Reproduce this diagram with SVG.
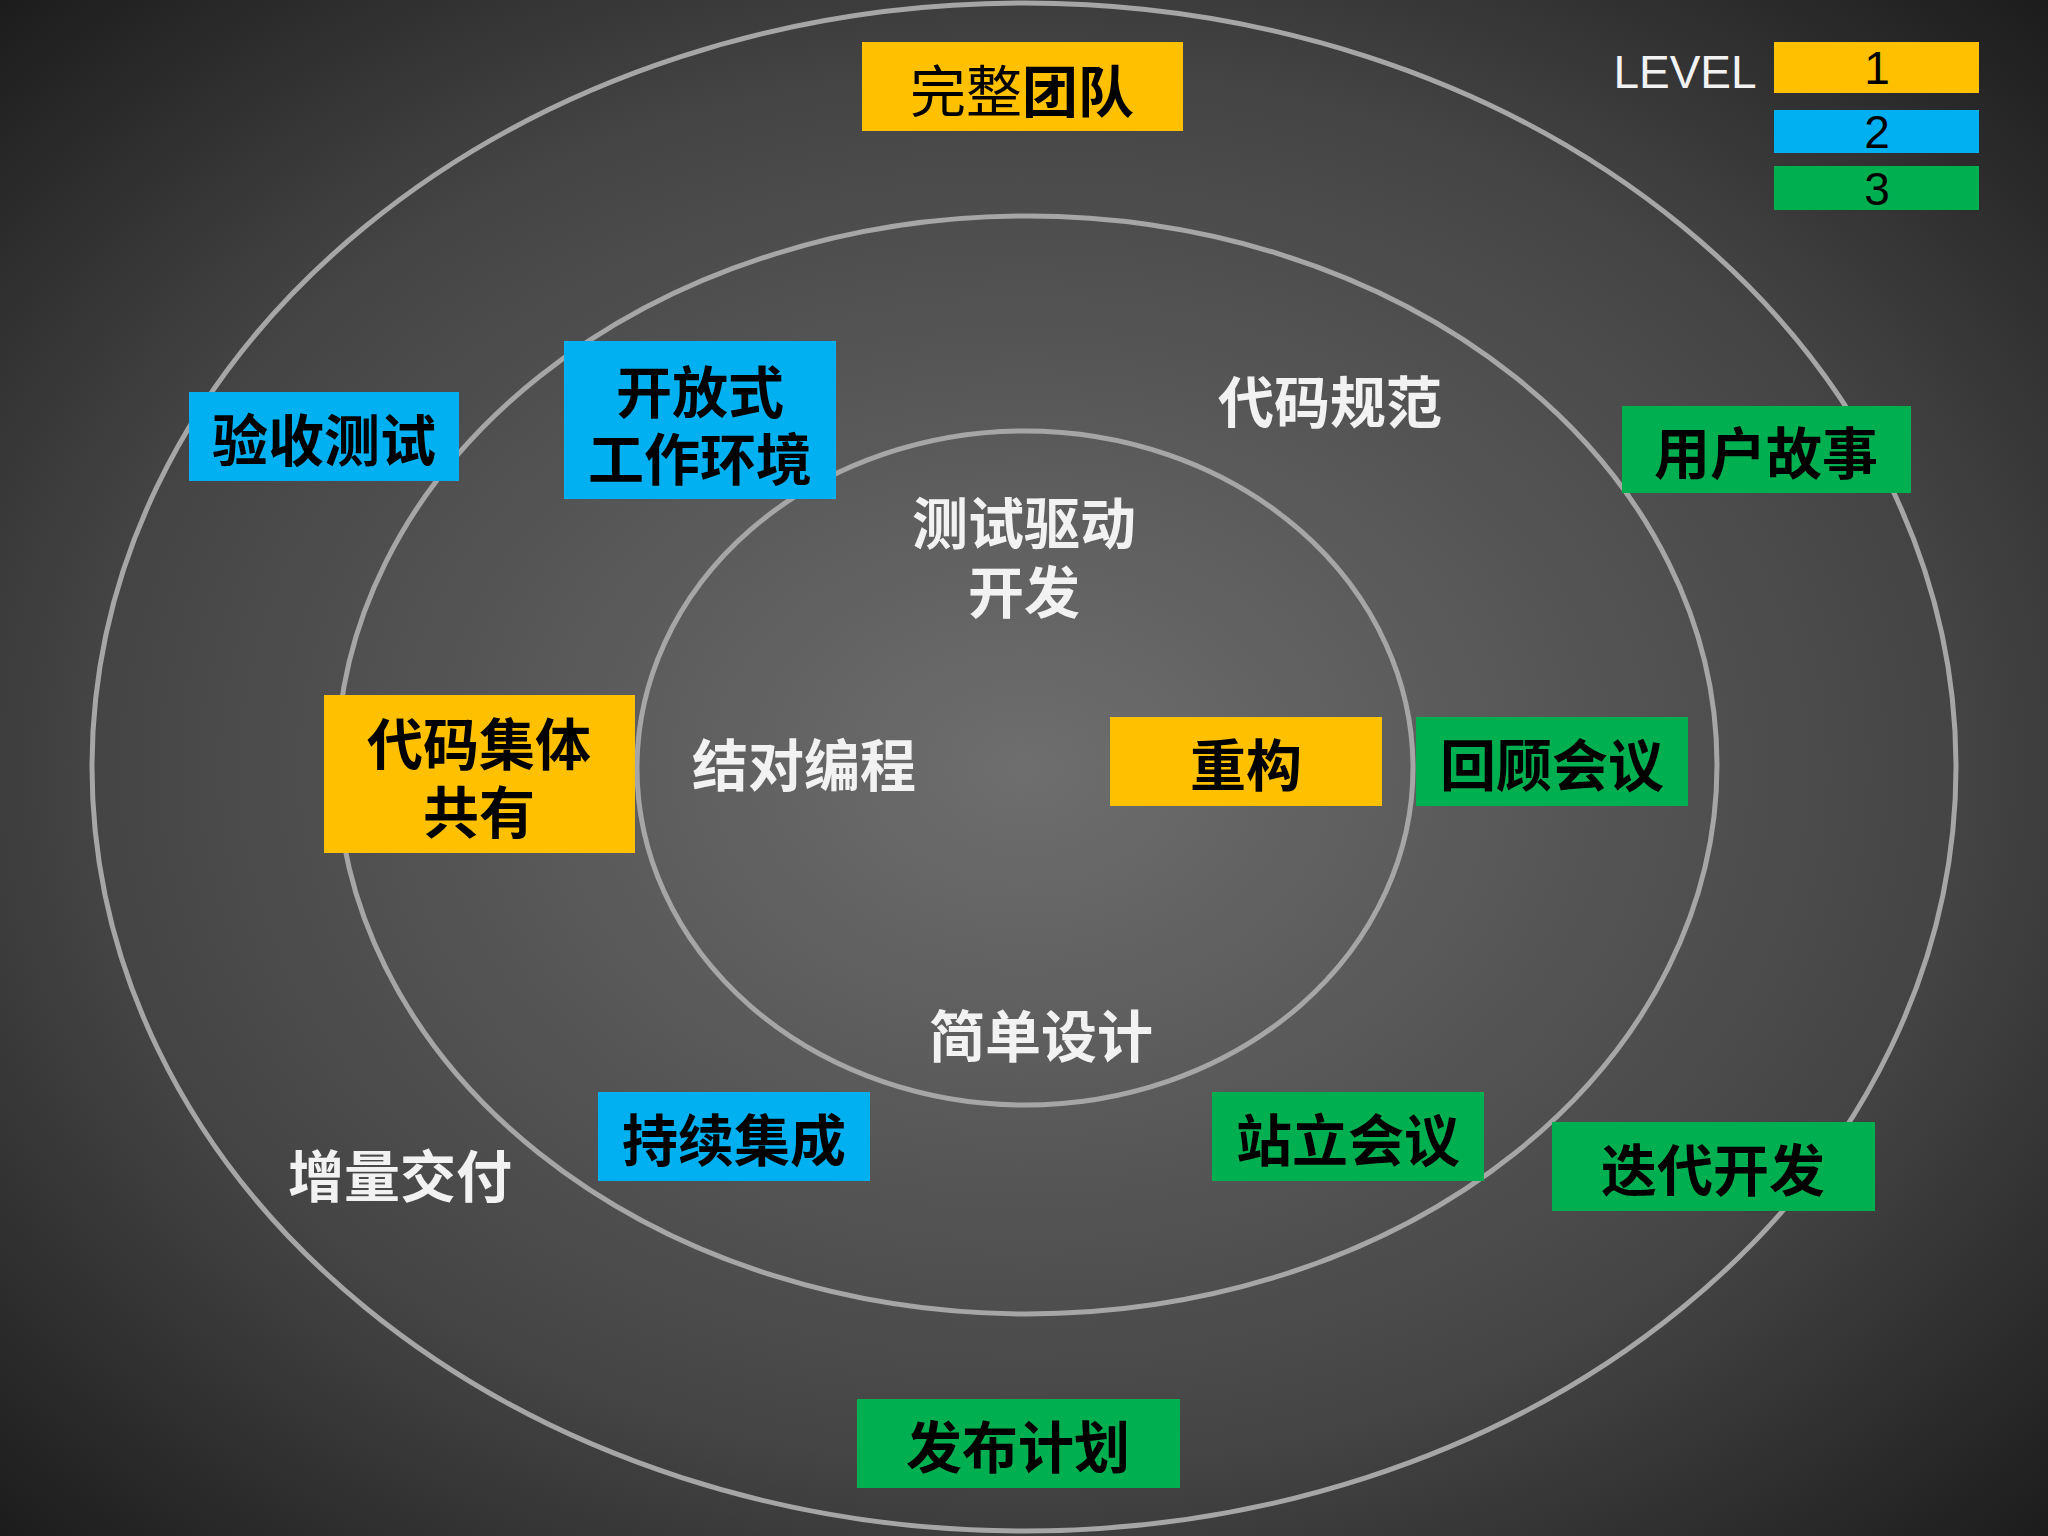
<svg xmlns="http://www.w3.org/2000/svg" width="2048" height="1536" viewBox="0 0 2048 1536">
<defs>
<radialGradient id="bg" cx="50%" cy="50%" r="75%">
<stop offset="0" stop-color="#6e6e6e"/>
<stop offset="0.6" stop-color="#454545"/>
<stop offset="1" stop-color="#151515"/>
</radialGradient>
</defs>
<style>
text{font-family:"Noto Sans CJK SC","Noto Sans",sans-serif;font-weight:bold;text-anchor:middle;dominant-baseline:central}
.b{font-size:56px;fill:#000}
.w{font-size:56px;fill:#f2f2f2}
.o{fill:#FFC000}.u{fill:#00B0F0}.g{fill:#00B050}
.ring{fill:none;stroke:#a6a6a6;stroke-width:5}
.lg{font-family:"Liberation Sans",sans-serif;font-weight:normal;font-size:46px}
</style>
<rect width="2048" height="1536" fill="url(#bg)"/>
<g id="rings">
<ellipse class="ring" cx="1024" cy="767" rx="932" ry="764"/>
<ellipse class="ring" cx="1027" cy="765" rx="690" ry="549"/>
<ellipse class="ring" cx="1025" cy="768" rx="388" ry="337"/>
</g>
<g id="legend">
<text class="lg" x="1685" y="72" fill="#f2f2f2">LEVEL</text>
<rect class="o" x="1774" y="42" width="205" height="51"/><text class="lg" x="1877" y="68" fill="#000">1</text>
<rect class="u" x="1774" y="110" width="205" height="43"/><text class="lg" x="1877" y="132" fill="#000">2</text>
<rect class="g" x="1774" y="166" width="205" height="44"/><text class="lg" x="1877" y="189" fill="#000">3</text>
</g>
<g id="n1"><rect class="o" x="862" y="42" width="321" height="89"/><text class="b" x="1022" y="87"><tspan font-weight="normal">完整</tspan>团队</text></g>
<g id="n2"><rect class="u" x="189" y="392" width="270" height="89"/><text class="b" x="324" y="436">验收测试</text></g>
<g id="n3"><rect class="u" x="564" y="341" width="272" height="158"/><text class="b" x="700" y="388">开放式</text><text class="b" x="700" y="455">工作环境</text></g>
<g id="n4"><text class="w" x="1330" y="398">代码规范</text></g>
<g id="n5"><rect class="g" x="1622" y="406" width="289" height="87"/><text class="b" x="1766" y="449">用户故事</text></g>
<g id="n6"><text class="w" x="1024" y="519">测试驱动</text><text class="w" x="1024" y="588">开发</text></g>
<g id="n7"><rect class="o" x="324" y="695" width="311" height="158"/><text class="b" x="479" y="740">代码集体</text><text class="b" x="479" y="808">共有</text></g>
<g id="n8"><text class="w" x="804" y="761">结对编程</text></g>
<g id="n9"><rect class="o" x="1110" y="717" width="272" height="89"/><text class="b" x="1246" y="761">重构</text></g>
<g id="n10"><rect class="g" x="1416" y="717" width="272" height="89"/><text class="b" x="1552" y="761">回顾会议</text></g>
<g id="n11"><text class="w" x="1041" y="1032">简单设计</text></g>
<g id="n12"><rect class="u" x="598" y="1092" width="272" height="89"/><text class="b" x="734" y="1136">持续集成</text></g>
<g id="n13"><rect class="g" x="1212" y="1092" width="272" height="89"/><text class="b" x="1348" y="1136">站立会议</text></g>
<g id="n14"><text class="w" x="400" y="1172">增量交付</text></g>
<g id="n15"><rect class="g" x="1552" y="1122" width="323" height="89"/><text class="b" x="1713" y="1166">迭代开发</text></g>
<g id="n16"><rect class="g" x="857" y="1399" width="323" height="89"/><text class="b" x="1018" y="1443">发布计划</text></g>
<g id="connectors"/>
</svg>
